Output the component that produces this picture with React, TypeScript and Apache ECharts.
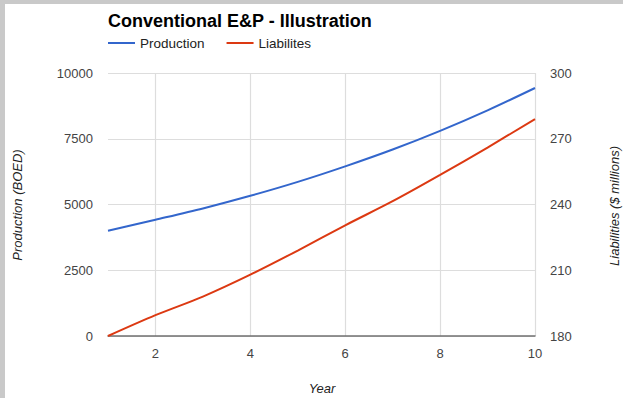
import React, { useEffect, useRef } from "react";
import * as echarts from "echarts";

const years = [1, 2, 3, 4, 5, 6, 7, 8, 9, 10];
const production = [4000, 4420, 4850, 5330, 5860, 6450, 7090, 7800, 8580, 9430];
const liabilities = [180, 189.5, 198, 208, 219, 230.5, 241.5, 253.5, 266, 279];
const xTicks = [2, 4, 6, 8, 10];

const FONT = 'Arial, "Liberation Sans", sans-serif';

export default function App() {
  const ref = useRef<HTMLDivElement>(null);
  useEffect(() => {
    if (!ref.current) return;
    const chart = echarts.init(ref.current, undefined, { renderer: "svg" });
    chart.setOption({
      animation: false,
      backgroundColor: "#ffffff",
      textStyle: { fontFamily: FONT },
      title: {
        text: "Conventional E&P - Illustration",
        left: 108,
        top: 12,
        padding: 0,
        textStyle: { fontFamily: FONT, fontSize: 18, fontWeight: "bold", color: "#000" },
      },
      legend: {
        left: 108,
        top: 36,
        padding: 0,
        itemWidth: 27,
        itemHeight: 2,
        itemGap: 22,
        icon: "rect",
        textStyle: { fontFamily: FONT, fontSize: 13.5, color: "#222" },
        data: ["Production", "Liabilites"],
      },
      grid: { left: 108, right: 88, top: 73, bottom: 62 },
      xAxis: {
        type: "value",
        min: 1,
        max: 10,
        axisLine: { show: true, onZero: false, lineStyle: { color: "#707070", width: 1.5 } },
        axisTick: { show: false, customValues: xTicks },
        axisLabel: { customValues: xTicks, color: "#444", fontSize: 13, margin: 11, fontFamily: FONT },
        splitLine: { show: true, lineStyle: { color: "#dddddd", width: 1.2 } },
      },
      yAxis: [
        {
          type: "value",
          min: 0,
          max: 10000,
          interval: 2500,
          axisLine: { show: false },
          axisTick: { show: false },
          axisLabel: {
            color: "#444",
            fontSize: 13,
            margin: 15,
            fontFamily: FONT,
            formatter: (v: number) => String(v),
          },
          splitLine: { show: true, lineStyle: { color: "#dddddd", width: 1.2 } },
        },
        {
          type: "value",
          min: 180,
          max: 300,
          interval: 30,
          position: "right",
          axisLine: { show: false },
          axisTick: { show: false },
          axisLabel: {
            color: "#444",
            fontSize: 13,
            margin: 15,
            fontFamily: FONT,
            formatter: (v: number) => String(v),
          },
          splitLine: { show: false },
        },
      ],
      graphic: [
        { type: "rect", shape: { x: 0, y: 0, width: 623, height: 4 }, style: { fill: "#c9c9c9" } },
        { type: "rect", shape: { x: 0, y: 0, width: 5, height: 398 }, style: { fill: "#c9c9c9" } },
        {
          type: "text",
          x: 322,
          y: 388,
          style: {
            text: "Year",
            fontFamily: FONT,
            fontSize: 13,
            fontStyle: "italic",
            fill: "#222",
            align: "center",
            verticalAlign: "middle",
          },
        },
        {
          type: "text",
          x: 17,
          y: 205,
          rotation: Math.PI / 2,
          style: {
            text: "Production (BOED)",
            fontFamily: FONT,
            fontSize: 13,
            fontStyle: "italic",
            fill: "#222",
            align: "center",
            verticalAlign: "middle",
          },
        },
        {
          type: "text",
          x: 614,
          y: 206,
          rotation: Math.PI / 2,
          style: {
            text: "Liabilities ($ millions)",
            fontFamily: FONT,
            fontSize: 13,
            fontStyle: "italic",
            fill: "#222",
            align: "center",
            verticalAlign: "middle",
          },
        },
      ],
      series: [
        {
          name: "Production",
          type: "line",
          yAxisIndex: 0,
          data: years.map((y, i) => [y, production[i]]),
          smooth: 0.3,
          symbol: "none",
          color: "#3366cc",
          lineStyle: { width: 2, color: "#3366cc" },
        },
        {
          name: "Liabilites",
          type: "line",
          yAxisIndex: 1,
          data: years.map((y, i) => [y, liabilities[i]]),
          smooth: 0.3,
          symbol: "none",
          color: "#dc3912",
          lineStyle: { width: 2, color: "#dc3912" },
        },
      ],
    });
    return () => chart.dispose();
  }, []);
  return (
    <div
      ref={ref}
      style={{ position: "fixed", left: 0, top: 0, width: 623, height: 398 }}
    />
  );
}
